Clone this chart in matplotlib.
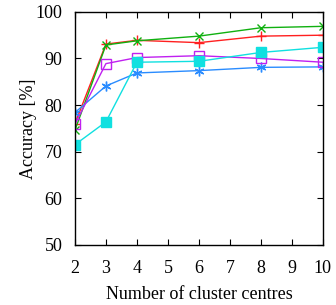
import matplotlib
matplotlib.use('Agg')
import matplotlib.pyplot as plt
from matplotlib.ticker import MultipleLocator

plt.rcParams['font.family'] = ['Liberation Serif', 'DejaVu Serif']

# number of cluster centres
x = [2, 3, 4, 6, 8, 10]
# accuracy [%] per series
acc_green = [74.6, 92.9, 93.8, 94.8, 96.6, 96.9]
acc_red = [76.0, 93.1, 93.9, 93.4, 94.8, 95.0]
acc_magenta = [75.9, 88.9, 90.2, 90.6, 90.0, 89.2]
acc_cyan = [71.5, 76.4, 89.2, 89.4, 91.3, 92.4]
acc_blue = [78.4, 84.1, 86.9, 87.4, 88.1, 88.2]

fig = plt.figure(figsize=(3.36, 3.05), dpi=100)
ax = fig.add_axes([0.223, 0.197, 0.738, 0.764])

lw = 1.0
ax.plot(x, acc_red, c='#ff2020', lw=lw, marker='+', ms=7, mew=1)
ax.plot(x, acc_green, c='#10b010', lw=lw, marker='x', ms=6, mew=1)
ax.plot(x, acc_blue, c='#2a8cff', lw=lw, marker=(6, 2, 0), ms=7, mew=1)
ax.plot(x, acc_magenta, c='#c020f0', lw=lw, marker='s', ms=6.5, mew=1, mfc='none')
ax.plot(x, acc_cyan, c='#10e0e0', lw=lw, marker='s', ms=6.5, mew=1)

ax.set_xlim(2, 10)
ax.set_ylim(50, 100)
ax.xaxis.set_major_locator(MultipleLocator(1))
ax.yaxis.set_major_locator(MultipleLocator(10))
ax.tick_params(axis='both', which='major', labelsize=13, direction='in',
               top=True, right=True, length=4, width=0.8)
ax.tick_params(axis='x', pad=11)
ax.tick_params(axis='y', pad=9)
for s in ax.spines.values():
    s.set_linewidth(1.0)

ax.set_xlabel('Number of cluster centres', fontsize=13, labelpad=6)
ax.set_ylabel('Accuracy [%]', fontsize=13, labelpad=-1)

fig.savefig('out.png', dpi=100)
